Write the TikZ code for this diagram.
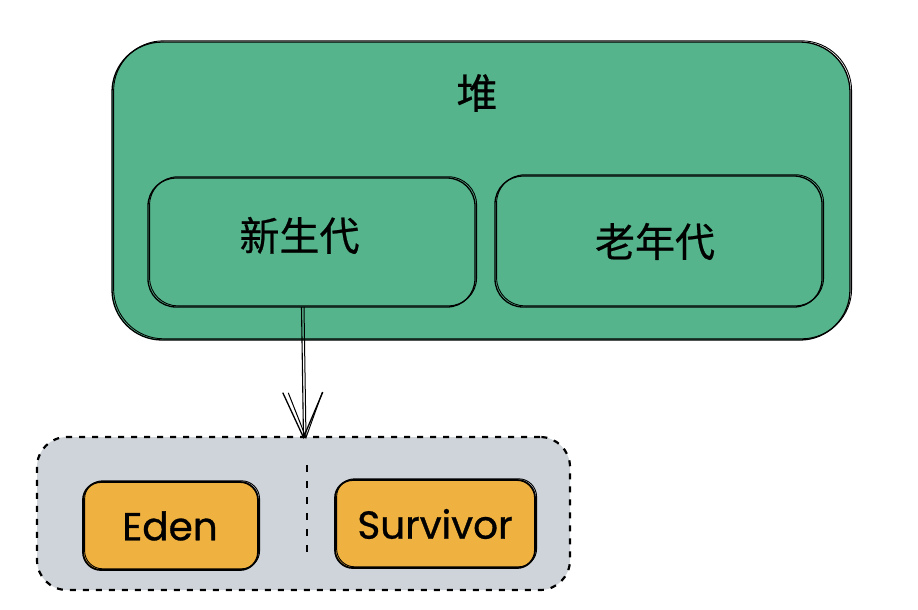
\documentclass[tikz,border=0pt]{standalone}
\usepackage{fontspec}
\newfontfamily\cjk[FakeBold=0.6]{Noto Sans CJK SC}
\newfontfamily\hand[FakeBold=0.8]{Poppins}
\usetikzlibrary{arrows.meta}
\definecolor{heapgreen}{HTML}{55B48B}
\definecolor{boxgray}{HTML}{CED4DA}
\definecolor{boxorange}{HTML}{EFB140}
\tikzset{
  sketch/.style={draw=black, line width=1.3pt,
    postaction={draw=black, line width=0.9pt, transform canvas={xshift=1.6pt, yshift=1.2pt}}},
  heapbox/.style={sketch, fill=heapgreen, rounded corners=50pt, inner sep=0pt, outer sep=0pt},
  genbox/.style={sketch, rounded corners=28pt, inner sep=0pt, outer sep=0pt},
  cjktext/.style={inner sep=0pt, font=\cjk\fontsize{40}{44}\selectfont},
  poolbox/.style={draw=black, fill=boxgray, line width=2.2pt, dash pattern=on 6pt off 7pt, rounded corners=30pt, inner sep=0pt, outer sep=0pt},
  areabox/.style={sketch, fill=boxorange, line width=1.8pt, rounded corners=18pt, inner sep=0pt, outer sep=0pt},
  handtext/.style={inner sep=0pt, font=\hand\fontsize{39}{42}\selectfont},
  flow/.style={draw=black, line width=1.1pt, -{Straight Barb[length=45pt, width=40pt, line width=1.3pt]},
    postaction={draw=black, line width=1pt, -{Straight Barb[length=45pt, width=34pt, line width=1pt]}, transform canvas={xshift=2.5pt}}},
  divider/.style={draw=black, line width=2.2pt, dash pattern=on 7pt off 9pt},
}
\begin{document}
\begin{tikzpicture}[x=1pt, y=-1pt]
\useasboundingbox (0,0) rectangle (918,610);
\node[heapbox, minimum width=738pt, minimum height=298pt] (heap) at (481,191) {};
\node[cjktext, font=\cjk\fontsize{41}{44}\selectfont] (heaplabel) at (477,93) {堆};
\node[genbox, minimum width=327pt, minimum height=129pt] (young) at (311.5,242.5) {};
\node[cjktext] (youngtext) at (299.5,235.5) {新生代};
\node[genbox, minimum width=327pt, minimum height=131pt] (old) at (658.5,241.5) {};
\node[cjktext] (oldtext) at (655,241.5) {老年代};
\node[poolbox, minimum width=533pt, minimum height=153pt] (pool) at (303.5,513.5) {};
\node[areabox, minimum width=175pt, minimum height=88pt] (eden) at (170.5,526) {};
\node[handtext] (edentext) at (170,526) {Eden};
\node[areabox, minimum width=200pt, minimum height=88pt] (surv) at (435,524) {};
\node[handtext] (survtext) at (435,524) {Survivor};
\draw[flow] ([xshift=-10pt]young.south) -- ([yshift=-2pt]pool.north);
\draw[divider] ([xshift=3.5pt, yshift=-28pt]pool.north) -- ([xshift=3.5pt, yshift=33pt]pool.south);
\end{tikzpicture}
\end{document}
